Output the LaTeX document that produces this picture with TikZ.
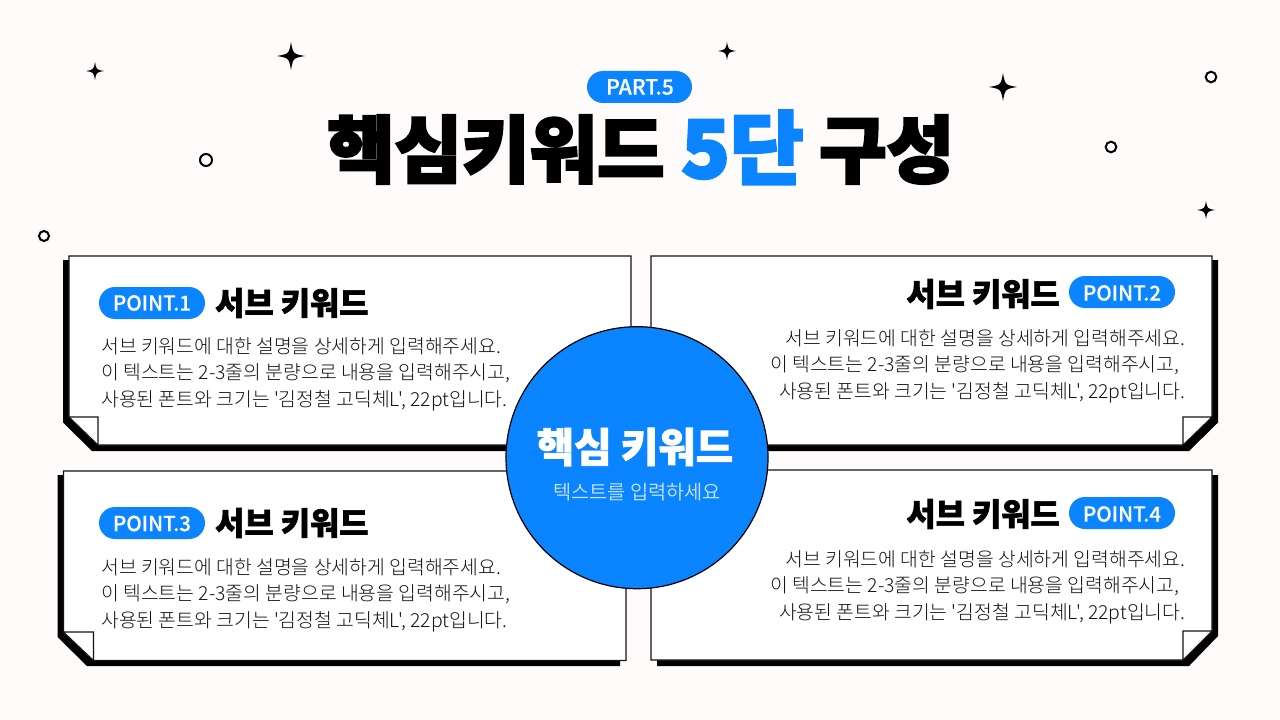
\documentclass[tikz,border=0pt]{standalone}
\usepackage{fontspec}
\newfontfamily\lightf{Noto Sans CJK KR}[UprightFont=* Light]
\newfontfamily\softf{Noto Sans CJK KR}[UprightFont=* DemiLight]
\newfontfamily\heavyf{Noto Sans CJK KR}[UprightFont=* Black,RawFeature={embolden=2}]
\newfontfamily\titlef{Noto Sans CJK KR}[UprightFont=* Black,RawFeature={embolden=3.2}]
\newfontfamily\medf{Noto Sans CJK KR}[UprightFont=* Medium,RawFeature={embolden=0.4}]
\definecolor{bgc}{HTML}{FEFBFA}
\definecolor{bluec}{HTML}{0A84FF}
\definecolor{softc}{HTML}{C9E4FF}
\definecolor{inkc}{HTML}{141414}
\tikzset{
  x=0.75pt,y=-0.75pt,
  cardbody/.style={draw=inkc,line width=0.9pt,fill=white,line join=miter},
  cardshadow/.style={fill=black,draw=none},
  foldface/.style={draw=inkc,line width=0.8pt,fill=white},
  pill/.style={fill=bluec,rounded corners=12pt,draw=none},
  pilltext/.style={text=white,font=\medf\fontsize{15.4pt}{17pt}\selectfont,inner sep=0pt},
  subhead/.style={text=black,font=\heavyf\fontsize{23.8pt}{26pt}\selectfont,inner sep=0pt,anchor=mid west},
  bodyleft/.style={text=inkc,font=\lightf\fontsize{14.5pt}{19.9pt}\selectfont,align=left,inner sep=0pt,anchor=north west},
  bodyright/.style={text=inkc,font=\lightf\fontsize{14.5pt}{19.9pt}\selectfont,align=right,inner sep=0pt,anchor=north east},
  titletext/.style={font=\titlef\fontsize{55pt}{60pt}\selectfont,inner sep=0pt,anchor=mid west},
  dotring/.style={draw=black,line width=1.5pt,fill=white},
  sparkle/.style={fill=black,draw=none}
}
\newcommand{\starshape}[3]{\fill[sparkle] (#1-#3,#2) .. controls (#1-0.15*#3,#2-0.15*#3) .. (#1,#2-#3) .. controls (#1+0.15*#3,#2-0.15*#3) .. (#1+#3,#2) .. controls (#1+0.15*#3,#2+0.15*#3) .. (#1,#2+#3) .. controls (#1-0.15*#3,#2+0.15*#3) .. cycle;}
\newcommand{\bodylines}{서브 키워드에 대한 설명을 상세하게 입력해주세요.\\이 텍스트는 2-3줄의 분량으로 내용을 입력해주시고,\\사용된 폰트와 크기는 '김정철 고딕체L', 22pt입니다.}
\newcommand{\bodylinesR}{서브 키워드에 대한 설명을 상세하게 입력해주세요.\\이 텍스트는 2-3줄의 분량으로 내용을 입력해주시고,\hspace*{4.5pt}\null\\사용된 폰트와 크기는 '김정철 고딕체L', 22pt입니다.}
\begin{document}
\begin{tikzpicture}
\useasboundingbox (0,0) rectangle (1280,720);
\fill[bgc] (0,0) rectangle (1280,720);
% sparkles and rings
\starshape{95}{71}{9}
\starshape{291}{56}{14}
\starshape{727}{51}{9}
\starshape{1003}{87}{14}
\starshape{1206}{210}{9}
\draw[dotring] (206,160) circle (6);
\draw[dotring] (1211,77) circle (5.3);
\draw[dotring] (1111,147) circle (5.3);
\draw[dotring] (44,236) circle (5);
% title
\fill[pill] (587,71) rectangle (692,103);
\node[pilltext,font=\medf\fontsize{15.8pt}{17pt}\selectfont] (part) at (640,87) {PART.5};
\node[titletext,text=black] (t1) at (327,174) {핵심키워드};
\node[titletext,text=bluec,font=\titlef\fontsize{60pt}{62pt}\selectfont] (t2) at (681,175) {5단};
\node[titletext,text=black] (t3) at (819,174) {구성};
% card 1
\fill[cardshadow] (63,260) -- (625,260) -- (625,451) -- (92,451) -- (63,422.5) -- cycle;
\draw[cardbody] (69,256) -- (631,256) -- (631,445) -- (98,445) -- (69,417) -- cycle;
\draw[foldface] (69,417) -- (98,417) -- (98,445) -- cycle;
% card 3
\fill[cardshadow] (57.5,475) -- (620,475) -- (620,666) -- (87,666) -- (57.5,637) -- cycle;
\draw[cardbody] (63.5,471) -- (626,471) -- (626,660.5) -- (93.5,660.5) -- (63.5,632) -- cycle;
\draw[foldface] (63.5,632) -- (93.5,632) -- (93.5,660.5) -- cycle;
% card 2
\fill[cardshadow] (657,260) -- (1218,260) -- (1218,422.5) -- (1189,451) -- (657,451) -- cycle;
\draw[cardbody] (651,256) -- (1212,256) -- (1212,417) -- (1183,445) -- (651,445) -- cycle;
\draw[foldface] (1212,417) -- (1183,417) -- (1183,445) -- cycle;
% card 4
\fill[cardshadow] (657,475) -- (1218,475) -- (1218,636) -- (1189,666) -- (657,666) -- cycle;
\draw[cardbody] (651,470) -- (1212,470) -- (1212,631) -- (1183,660) -- (651,660) -- cycle;
\draw[foldface] (1212,631) -- (1183,631) -- (1183,660) -- cycle;
% card 1 text
\fill[pill] (99,287) rectangle (205,319);
\node[pilltext] (p1) at (152,303) {POINT.1};
\node[subhead] (s1) at (215,312) {서브 키워드};
\node[bodyleft] (b1) at (101,337) {\bodylines};
% card 3 text
\fill[pill] (99,507) rectangle (205,539);
\node[pilltext] (p3) at (152,523.5) {POINT.3};
\node[subhead] (s3) at (215,532) {서브 키워드};
\node[bodyleft] (b3) at (101,558) {\bodylines};
% card 2 text
\fill[pill] (1069,276) rectangle (1175,308);
\node[pilltext] (p2) at (1122,293) {POINT.2};
\node[subhead,anchor=mid east] (s2) at (1060,303) {서브 키워드};
\node[bodyright] (b2) at (1185.5,329) {\bodylinesR};
% card 4 text
\fill[pill] (1069,497) rectangle (1175,529);
\node[pilltext] (p4) at (1122,514) {POINT.4};
\node[subhead,anchor=mid east] (s4) at (1060,523) {서브 키워드};
\node[bodyright] (b4) at (1185.5,550) {\bodylinesR};
% centre
\node[circle,fill=bluec,draw=black,line width=0.9pt,minimum size=196.5pt,inner sep=0pt] (hub) at (637,457.7) {};
\node[text=white,font=\heavyf\fontsize{30.5pt}{32pt}\selectfont,inner sep=0pt] (h1) at (635,447) {핵심 키워드};
\node[text=softc,font=\softf\fontsize{14.8pt}{16pt}\selectfont,inner sep=0pt] (h2) at (637,492) {텍스트를 입력하세요};
\end{tikzpicture}
\end{document}
